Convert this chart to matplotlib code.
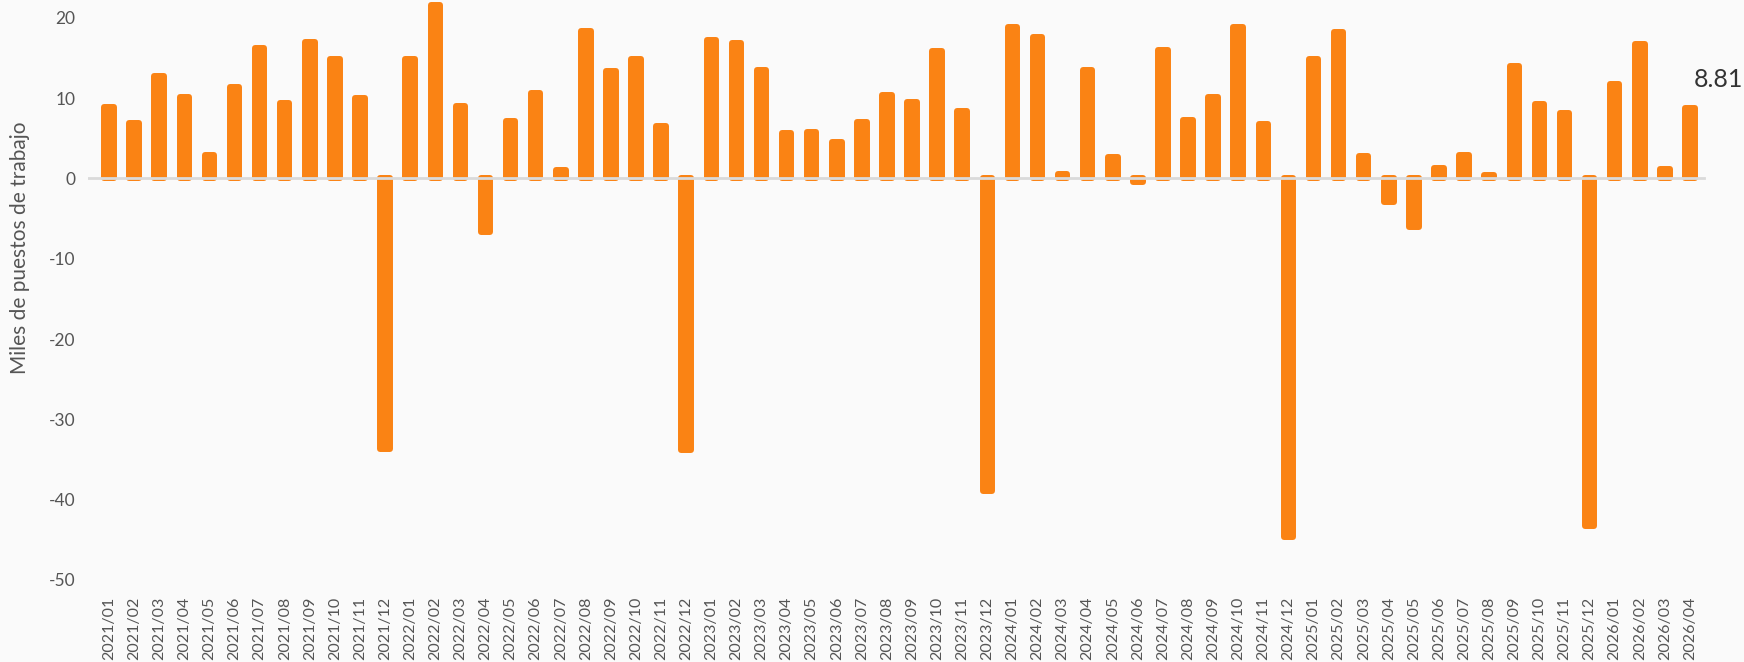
import matplotlib
matplotlib.use("Agg")
import matplotlib.pyplot as plt

# Monthly change, thousands of jobs
years = [2021, 2022, 2023, 2024, 2025, 2026]
months = [f"{y}/{m:02d}" for y in years for m in range(1, 13)][:64]

values = [
    8.92, 6.85, 12.77, 10.07, 2.87, 11.33, 16.23, 9.34, 16.97, 14.82, 10.0, -33.7,
    14.86, 21.54, 8.96, -6.64, 7.1, 10.62, 1.0, 18.38, 13.32, 14.86, 6.47, -33.8,
    17.22, 16.89, 13.53, 5.6, 5.77, 4.48, 7.01, 10.33, 9.46, 15.85, 8.38, -38.9,
    18.8, 17.6, 0.5, 13.53, 2.7, -0.42, 15.94, 7.26, 10.13, 18.8, 6.72, -44.6,
    14.86, 18.17, 2.78, -3.0, -6.0, 1.33, 2.9, 0.38, 13.99, 9.21, 8.09, -43.3,
    11.74, 16.77, 1.16, 8.81,
]
last_label = "8.81"
y_ticks = [-50, -40, -30, -20, -10, 0, 10, 20]

bar_color = "#FA8314"
text_color = "#555555"
bg = "#FAFAFA"

plt.rcParams["font.family"] = ["Lato", "DejaVu Sans"]

fig = plt.figure(figsize=(17.44, 6.62), dpi=100, facecolor=bg)
ax = fig.add_axes([88 / 1744, 82 / 662, 1624 / 1744, 580 / 662])
ax.set_facecolor(bg)

x = list(range(len(values)))
ax.bar(x, values, width=0.38, color=bar_color, edgecolor=bar_color,
       linewidth=4.3, joinstyle="round", zorder=2)
ax.plot([-0.95, len(values) - 0.45], [0, 0], color="#DADADA", lw=2, zorder=3)

ax.annotate(last_label, xy=(x[-1], values[-1]), xytext=(3, 20),
            textcoords="offset points", ha="left", va="center",
            fontsize=18, color="#333333")

ax.set_xlim(-0.84, 63.88)
ax.set_ylim(-50, 22.2)
ax.set_yticks(y_ticks)
ax.set_yticklabels([str(v) for v in y_ticks])
ax.set_xticks(x)
ax.set_xticklabels(months, rotation=90)
ax.tick_params(axis="x", length=0, pad=12, labelsize=11.5, labelcolor=text_color)
ax.tick_params(axis="y", length=0, pad=9, labelsize=12.5, labelcolor=text_color)
for s in ax.spines.values():
    s.set_visible(False)

ax.set_ylabel("Miles de puestos de trabajo", fontsize=15, color=text_color)
ax.yaxis.set_label_coords(-0.036, 0.572)

fig.savefig("out.png", dpi=100, facecolor=bg)
plt.close(fig)
